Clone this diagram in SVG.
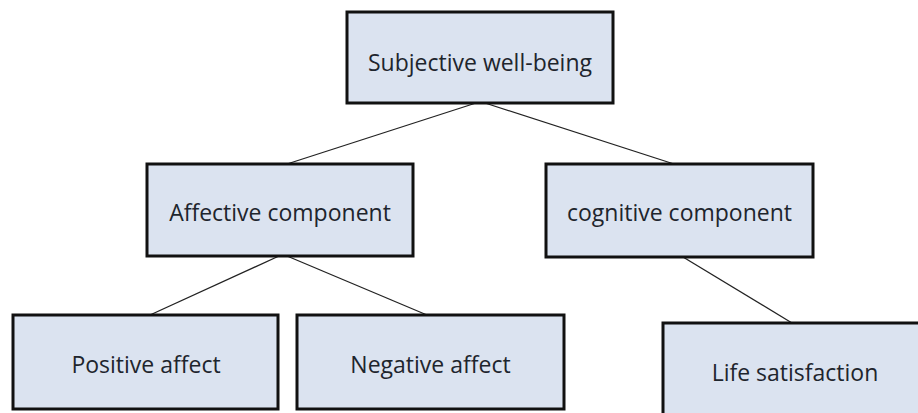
<svg xmlns="http://www.w3.org/2000/svg" width="918" height="413" viewBox="0 0 918 413">
<style>
.box{fill:#dbe3f0;stroke:#111;stroke-width:3}
.lbl{font-family:"Open Sans","Liberation Sans",sans-serif;font-size:23px;fill:#1e252d;text-anchor:middle}
.conn{stroke:#222;stroke-width:1.3;fill:none}
</style>
<rect width="918" height="413" fill="#fff"/>
<g id="connectors">
<line class="conn" x1="476" y1="103" x2="287" y2="164"/>
<line class="conn" x1="485" y1="103" x2="674" y2="164"/>
<line class="conn" x1="279" y1="256" x2="150" y2="315"/>
<line class="conn" x1="287" y1="256" x2="427" y2="315"/>
<line class="conn" x1="683" y1="257" x2="792" y2="323"/>
</g>
<g id="swb">
<rect class="box" x="347" y="12" width="266" height="91"/>
<text class="lbl" x="480" y="71">Subjective well-being</text>
</g>
<g id="affective">
<rect class="box" x="147" y="164" width="266" height="92"/>
<text class="lbl" x="280" y="221">Affective component</text>
</g>
<g id="cognitive">
<rect class="box" x="546" y="164" width="267" height="93"/>
<text class="lbl" x="679.5" y="221">cognitive component</text>
</g>
<g id="positive">
<rect class="box" x="13" y="315" width="265" height="94"/>
<text class="lbl" x="146" y="373">Positive affect</text>
</g>
<g id="negative">
<rect class="box" x="297" y="315" width="267" height="94"/>
<text class="lbl" x="430.5" y="373">Negative affect</text>
</g>
<g id="life">
<rect class="box" x="663" y="323" width="270" height="100"/>
<text class="lbl" x="795" y="381">Life satisfaction</text>
</g>
</svg>
